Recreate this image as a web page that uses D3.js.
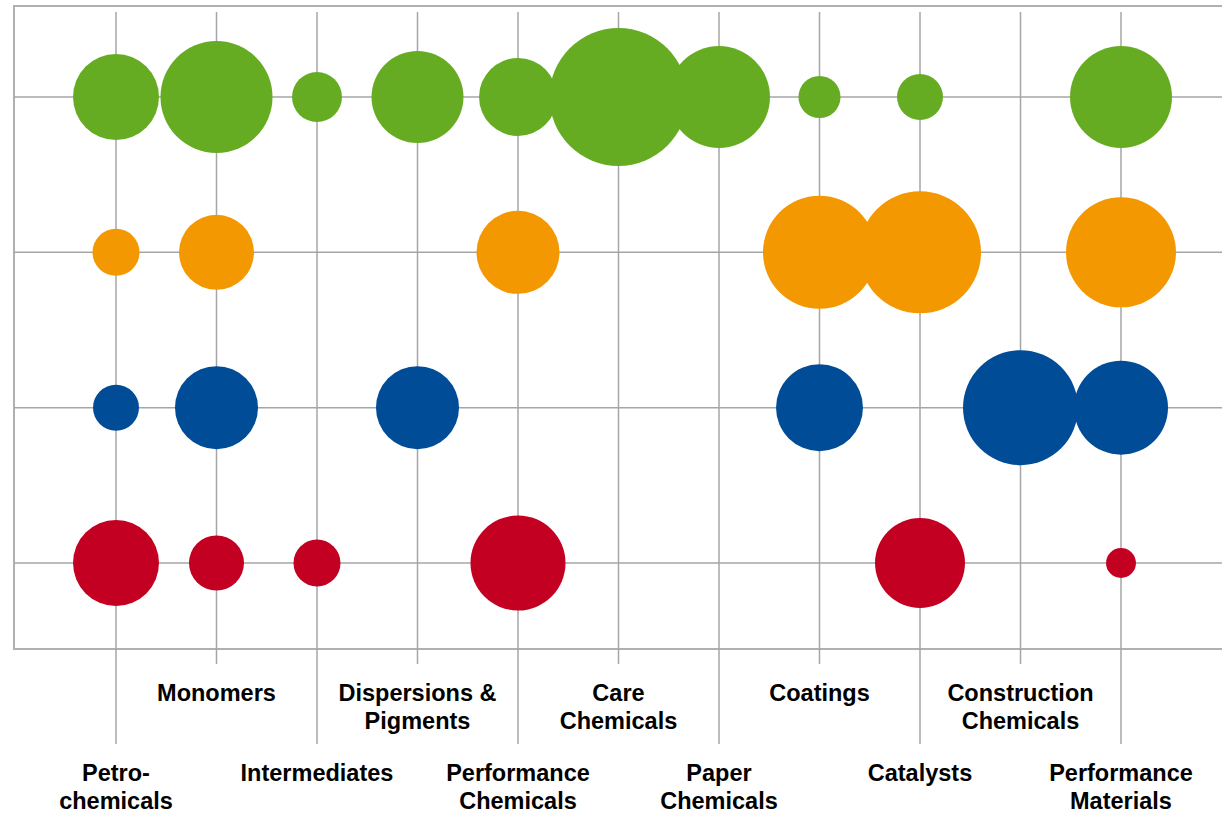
<!DOCTYPE html>
<html>
<head>
<meta charset="utf-8">
<script src="https://cdn.jsdelivr.net/npm/d3@7"></script>
<style>
  html, body { margin: 0; padding: 0; background: #fff; }
  svg { display: block; }
  text { font-family: "Liberation Sans", Arial, sans-serif; font-weight: bold; fill: #000; }
</style>
</head>
<body>
<svg id="chart" width="1222" height="814"></svg>
<script>
// Business segments along the horizontal axis
const categories = [
  "Petro-chemicals", "Monomers", "Intermediates", "Dispersions & Pigments",
  "Performance Chemicals", "Care Chemicals", "Paper Chemicals", "Coatings",
  "Catalysts", "Construction Chemicals", "Performance Materials"
];
// Label lines as printed under each column
const labelLines = [
  ["Petro-", "chemicals"], ["Monomers"], ["Intermediates"], ["Dispersions &", "Pigments"],
  ["Performance", "Chemicals"], ["Care", "Chemicals"], ["Paper", "Chemicals"], ["Coatings"],
  ["Catalysts"], ["Construction", "Chemicals"], ["Performance", "Materials"]
];

// Rows, top to bottom
const rows = ["seriesA", "seriesB", "seriesC", "seriesD"];
const rowColors = ["#66ac22", "#f39800", "#004c97", "#c40022"];

// Relative bubble size per segment (null = no bubble)
const seriesA = [38.8, 65.9, 13.1, 44.4, 31.9, 100, 54.6, 9.3, 11.1, null, 54.6];
const seriesB = [11.6, 29.5, null, null, 36.2, null, null, 67.1, 78.2, null, 63.5];
const seriesC = [11.1, 36.2, null, 36.2, null, null, null, 39.7, null, 69.4, 46.4];
const seriesD = [38.8, 15.9, 11.6, null, 47.4, null, null, null, 42.5, null, 4.7];
const seriesValues = [seriesA, seriesB, seriesC, seriesD];

const svg = d3.select("#chart");
const W = 1222;
const frame = { left: 14, top: 6, bottom: 649 };

const x = d3.scalePoint().domain(categories).range([116, 1121]);
const y = d3.scalePoint().domain(rows).range([97, 563]);
const r = d3.scaleSqrt().domain([0, 100]).range([0, 69]);

const gridColor = "#a6a6a6";

// Frame: left, top and bottom edges
const frameG = svg.append("g").attr("stroke", "#b0b0b0").attr("stroke-width", 2).attr("fill", "none");
frameG.append("path").attr("d", `M${W + 5},${frame.top}H${frame.left}V${frame.bottom}H${W + 5}`);

// Horizontal row lines
svg.append("g").selectAll("line").data(rows).join("line")
  .attr("x1", frame.left).attr("x2", W)
  .attr("y1", d => y(d)).attr("y2", d => y(d))
  .attr("stroke", gridColor).attr("stroke-width", 1.5);

// Vertical column lines, running down to the staggered labels
svg.append("g").selectAll("line").data(categories).join("line")
  .attr("x1", d => x(d)).attr("x2", d => x(d))
  .attr("y1", 12)
  .attr("y2", (d, i) => i % 2 === 0 ? 744 : 664)
  .attr("stroke", gridColor).attr("stroke-width", 1.5);

// Bubbles
const bubbles = [];
rows.forEach((row, ri) => {
  seriesValues[ri].forEach((v, ci) => {
    if (v != null) bubbles.push({ row, ri, cat: categories[ci], v });
  });
});
svg.append("g").selectAll("circle").data(bubbles).join("circle")
  .attr("cx", d => x(d.cat))
  .attr("cy", d => y(d.row))
  .attr("r", d => r(d.v))
  .attr("fill", d => rowColors[d.ri]);

// Staggered category labels
const labels = svg.append("g").selectAll("text").data(categories).join("text")
  .attr("text-anchor", "middle")
  .attr("font-size", 23.5)
  .attr("x", d => x(d))
  .attr("y", (d, i) => i % 2 === 0 ? 781 : 701);
labels.each(function(d, i) {
  d3.select(this).selectAll("tspan").data(labelLines[i]).join("tspan")
    .attr("x", x(d))
    .attr("dy", (t, j) => j === 0 ? 0 : 28)
    .text(t => t);
});
</script>
</body>
</html>
